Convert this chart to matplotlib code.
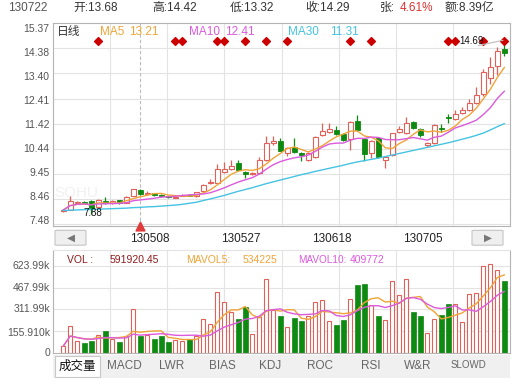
import matplotlib
matplotlib.use('Agg')
import matplotlib.pyplot as plt
import matplotlib.patches as patches
import numpy as np
import pandas as pd

plt.rcParams['font.family'] = ['Liberation Sans', 'Noto Sans CJK SC']

# daily candles (price)
opens = [8.01, 8.06, 8.32, 8.36, 8.40, 8.16, 8.40, 8.33, 8.43, 8.34,
         8.60, 8.83, 8.69, 8.70, 8.63, 8.58, 8.52, 8.60, 8.65, 8.58,
         8.78, 9.09, 9.12, 9.52, 9.64, 9.90, 9.55, 9.46, 9.48, 10.00,
         10.66, 10.76, 10.29, 10.50, 10.27, 10.02, 10.14, 10.98, 11.11, 11.18,
         11.02, 10.82, 11.54, 10.82, 10.29, 10.85, 10.00, 10.20, 11.11, 11.05,
         11.50, 11.21, 10.59, 10.66, 11.25, 11.70, 11.62, 11.83, 11.96, 12.23,
         12.58, 13.20, 13.68, 14.35]
closes = [8.05, 8.39, 8.37, 8.33, 8.12, 8.43, 8.34, 8.38, 8.34, 8.56,
          8.85, 8.68, 8.71, 8.65, 8.59, 8.54, 8.56, 8.65, 8.60, 8.74,
          9.03, 9.15, 9.64, 9.65, 9.77, 9.62, 9.45, 9.49, 10.00, 10.68,
          10.76, 10.37, 10.46, 10.30, 10.20, 10.27, 10.92, 11.14, 11.21, 11.02,
          10.80, 11.50, 11.18, 10.24, 10.75, 10.13, 10.11, 11.05, 11.21, 11.44,
          11.25, 10.98, 10.66, 11.37, 11.20, 11.64, 11.80, 11.96, 12.22, 12.55,
          13.45, 13.66, 14.29, 14.19]
highs = [8.08, 8.60, 8.40, 8.40, 8.45, 8.46, 8.56, 8.42, 8.45, 8.58,
         8.88, 8.85, 8.78, 8.72, 8.66, 8.60, 8.58, 8.68, 8.66, 8.76,
         9.06, 9.28, 9.85, 9.93, 10.00, 10.00, 9.57, 9.52, 10.13, 10.95,
         10.93, 10.86, 10.50, 10.85, 10.30, 10.30, 10.96, 11.44, 11.45, 11.33,
         11.05, 11.53, 11.77, 10.86, 10.78, 10.88, 10.14, 11.08, 11.34, 11.68,
         11.55, 11.24, 10.70, 11.40, 11.40, 11.80, 11.96, 12.08, 12.40, 12.87,
         13.55, 14.05, 14.42, 14.69]
lows = [7.98, 8.04, 8.30, 8.30, 7.88, 8.12, 8.30, 8.30, 8.30, 8.32,
        8.58, 8.65, 8.62, 8.60, 8.55, 8.50, 8.50, 8.58, 8.58, 8.56,
        8.75, 9.06, 9.10, 9.48, 9.60, 9.60, 9.29, 9.42, 9.46, 9.98,
        10.60, 10.35, 10.16, 10.27, 9.98, 9.98, 10.08, 10.95, 11.08, 11.00,
        10.76, 10.39, 11.15, 9.96, 10.08, 10.10, 9.68, 10.18, 11.08, 11.02,
        11.20, 10.92, 10.52, 10.63, 11.10, 11.45, 11.58, 11.80, 11.93, 12.20,
        12.52, 13.00, 13.32, 14.08]
ma30 = [8.03, 8.04, 8.05, 8.06, 8.07, 8.08, 8.09, 8.10, 8.11, 8.12,
        8.14, 8.15, 8.17, 8.18, 8.20, 8.22, 8.24, 8.27, 8.31, 8.35,
        8.42, 8.48, 8.55, 8.62, 8.70, 8.78, 8.85, 8.92, 9.00, 9.08,
        9.15, 9.22, 9.29, 9.36, 9.43, 9.49, 9.56, 9.62, 9.68, 9.74,
        9.80, 9.87, 9.93, 9.98, 10.03, 10.08, 10.14, 10.20, 10.26, 10.32,
        10.38, 10.44, 10.50, 10.56, 10.62, 10.68, 10.75, 10.82, 10.89, 10.97,
        11.06, 11.18, 11.31, 11.43]
# volume in thousands
volumes = [52, 194, 90, 76, 88, 130, 159, 102, 83, 125,
           315, 125, 130, 102, 125, 83, 95, 88, 100, 125,
           244, 206, 434, 368, 292, 244, 330, 135, 261, 527,
           308, 268, 190, 254, 230, 268, 363, 380, 230, 202,
           237, 387, 486, 491, 344, 268, 237, 515, 415, 529,
           296, 268, 142, 244, 273, 351, 349, 221, 420, 427,
           624, 634, 591.92, 515]

price_ticks = [15.37, 14.38, 13.40, 12.41, 11.42, 10.44, 9.45, 8.46, 7.48]
vol_ticks = [623.99, 467.99, 311.99, 155.91, 0]
vol_tick_labels = ['623.99k', '467.99k', '311.99k', '155.910k', '0']
date_idx = [11, 24, 37, 50]
date_labels = ['130508', '130527', '130618', '130705']
signal_idx = [5, 16, 17, 22, 23, 26, 29, 32, 41, 44, 55, 56, 60, 63]
tabs = ['MACD', 'LWR', 'BIAS', 'KDJ', 'ROC', 'RSI', 'W&R']

RED = '#E0605A'
GREEN = '#0E8A12'
C_MA5 = '#F0A437'
C_MA10 = '#DC5ADC'
C_MA30 = '#45C3E2'
GRID = '#E3E3E3'
BORDER = '#B4B4B4'

W, H = 522, 385
fig = plt.figure(figsize=(W / 100, H / 100), dpi=100)


def rect(x0, y0, x1, y1):
    return [x0 / W, 1 - y1 / H, (x1 - x0) / W, (y1 - y0) / H]


def ftext(x, y, s, **kw):
    kw.setdefault('va', 'center')
    kw.setdefault('fontsize', 8.5)
    return fig.text(x / W, 1 - y / H, s, **kw)


x = np.arange(len(closes))
o = np.array(opens)
c = np.array(closes)
up = c >= o
xlim = ((53 - 63.3) / 7.0, (510 - 63.3) / 7.0)

# ---- header
ftext(8, 8, '130722', color='#555555', fontsize=8.5)
ftext(73, 8, '开:13.68', color='#333333')
ftext(152, 8, '高:14.42', color='#333333')
ftext(230, 8, '低:13.32', color='#333333')
ftext(305, 8, '收:14.29', color='#333333')
ftext(380, 8, '张:', color='#333333')
ftext(400, 8, '4.61%', color='#E03030')
ftext(445, 8, '额:8.39亿', color='#333333')

# ---- price panel
ax = fig.add_axes(rect(53, 23, 510, 226))
ax.set_xlim(*xlim)
ax.set_ylim(15.37 - 203 * 0.03916, 15.37)
for v in price_ticks[1:]:
    ax.axhline(v, color=GRID, lw=0.8, zorder=0)
for k in range(1, 8):
    ax.plot([k / 8, k / 8], [0, 1], transform=ax.transAxes, color=GRID, lw=0.8, zorder=0)
ax.axvline(11, color='#BBBBBB', lw=0.8, ls=(0, (3, 2)), zorder=0)
ax.set_xticks([])
ax.set_yticks([])
for s in ax.spines.values():
    s.set_color(BORDER)
    s.set_linewidth(0.8)

# faint watermark
ax.text(0.004, 0.165, 'SOHU', transform=ax.transAxes, fontsize=11, color='#F1F1F1',
        zorder=0, va='center')

# wicks
ax.vlines(x, lows, highs, colors=[RED if u else GREEN for u in up], lw=0.9, zorder=2)
# bodies
body_h = np.maximum(np.abs(c - o), 0.02)
ax.bar(x[up], body_h[up], bottom=np.minimum(o, c)[up], width=0.68,
       facecolor='white', edgecolor=RED, lw=0.8, zorder=3)
ax.bar(x[~up], body_h[~up], bottom=np.minimum(o, c)[~up], width=0.72,
       facecolor=GREEN, edgecolor=GREEN, lw=0.6, zorder=3)

ma5 = pd.Series(closes).rolling(5, min_periods=1).mean()
ma10 = pd.Series(closes).rolling(10, min_periods=1).mean()
ax.plot(x, ma5, color=C_MA5, lw=1.0, zorder=4)
ax.plot(x, ma10, color=C_MA10, lw=1.0, zorder=4)
ax.plot(x, ma30, color=C_MA30, lw=1.0, zorder=4)

# signal diamonds along the top
ax.scatter(signal_idx, [0.911] * len(signal_idx), marker='D', s=16, color='#CC0000',
           transform=ax.get_xaxis_transform(), zorder=5, clip_on=False)

# high / low marks
ax.plot([59.3, 62.8], [14.49, 14.69], color='#BBBBBB', lw=0.8, zorder=5)
ax.text(58.3, 14.665, '14.69', fontsize=7, color='#111111', ha='center', va='center', zorder=6)
ax.text(4.2, 7.92, '7.88', fontsize=7, color='#111111', ha='center', va='center', zorder=6)

# legend row
ax.text(0.009, 0.955, '日线', transform=ax.transAxes, fontsize=8.5, color='#333333', va='center')
ax.text(0.103, 0.955, 'MA5', transform=ax.transAxes, fontsize=8.5, color=C_MA5, va='center')
ax.text(0.166, 0.955, '13.21', transform=ax.transAxes, fontsize=8.5, color=C_MA5, va='center')
ax.text(0.298, 0.955, 'MA10', transform=ax.transAxes, fontsize=8.5, color=C_MA10, va='center')
ax.text(0.376, 0.955, '12.41', transform=ax.transAxes, fontsize=8.5, color=C_MA10, va='center')
ax.text(0.514, 0.955, 'MA30', transform=ax.transAxes, fontsize=8.5, color=C_MA30, va='center')
ax.text(0.606, 0.955, '11.31', transform=ax.transAxes, fontsize=8.5, color=C_MA30, va='center')

# y labels (spread inside the panel)
lo, hi = price_ticks[-1], price_ticks[0]
for v in price_ticks:
    f = 0.0246 + (v - lo) / (hi - lo) * (0.9714 - 0.0246)
    ax.text(-0.008, f, '%.2f' % v, transform=ax.transAxes, ha='right', va='center',
            fontsize=7.5, color='#555555')

# marker of current date
ax.scatter([11], [0.0], marker='^', s=40, color='#E03A3A', transform=ax.get_xaxis_transform(),
           zorder=6, clip_on=False)

# ---- date strip
axs = fig.add_axes(rect(53, 226, 510, 250))
axs.set_xlim(*xlim)
axs.set_ylim(0, 1)
axs.axis('off')
for xb, tri in [(55, '◀'), (472, '▶')]:
    axs.add_patch(patches.FancyBboxPatch(((xb - 53) / 457 * (xlim[1] - xlim[0]) + xlim[0], 0.2),
                                         31 / 7.0, 0.62,
                                         boxstyle='round,pad=0,rounding_size=0.3',
                                         facecolor='#EFEFEF', edgecolor='#C4C4C4', lw=0.8,
                                         mutation_aspect=0.1))
    axs.text((xb + 15.5 - 53) / 457 * (xlim[1] - xlim[0]) + xlim[0], 0.51, tri, ha='center',
             va='center', fontsize=7.5, color='#777777', family='DejaVu Sans')
for i, lab in zip(date_idx, date_labels):
    axs.text(i + 1.4, 0.45, lab, ha='center', va='center', fontsize=8.5, color='#222222')

# ---- volume panel
av = fig.add_axes(rect(53, 250, 510, 353.3))
av.set_xlim(*xlim)
av.set_ylim(0, 103.3 / 0.1404)
for v in vol_ticks[:-1]:
    av.axhline(v, color=GRID, lw=0.8, zorder=0)
for k in range(1, 8):
    av.plot([k / 8, k / 8], [0, 1], transform=av.transAxes, color=GRID, lw=0.8, zorder=0)
av.set_xticks([])
av.set_yticks([])
for s in av.spines.values():
    s.set_color(BORDER)
    s.set_linewidth(0.8)
av.spines['top'].set_color(GRID)

vols = np.array(volumes)
av.bar(x[up], vols[up], width=0.6, facecolor='white', edgecolor=RED, lw=0.8, zorder=2)
av.bar(x[~up], vols[~up], width=0.72, facecolor=GREEN, edgecolor=GREEN, lw=0.5, zorder=2)
mavol5 = pd.Series(volumes).rolling(5, min_periods=1).mean()
mavol10 = pd.Series(volumes).rolling(10, min_periods=1).mean()
av.plot(x, mavol5, color=C_MA5, lw=1.0, zorder=3)
av.plot(x, mavol10, color=C_MA10, lw=1.0, zorder=3)

vol_label_px = [265.7, 287.7, 309.3, 332.7, 353.3]
for lab, py in zip(vol_tick_labels, vol_label_px):
    ftext(50, py, lab, ha='right', fontsize=7.5, color='#555555')

ftext(67, 260, 'VOL :', color='#8E1C1C', fontsize=7.5)
ftext(110, 260, '591920.45', color='#8E1C1C', fontsize=7.5)
ftext(186, 260, 'MAVOL5:', color=C_MA5, fontsize=7.5)
ftext(243, 260, '534225', color=C_MA5, fontsize=7.5)
ftext(298, 260, 'MAVOL10:', color=C_MA10, fontsize=7.2)
ftext(350, 260, '409772', color=C_MA10, fontsize=7.5)

# ---- tab strip
fig.patches.append(patches.Rectangle((53 / W, 1 - 378 / H), 457 / W, 23 / H,
                                     transform=fig.transFigure, facecolor='#F0F0F0',
                                     edgecolor='none', zorder=0))
fig.patches.append(patches.Rectangle((55 / W, 1 - 377 / H), 45 / W, 21 / H,
                                     transform=fig.transFigure, facecolor='white',
                                     edgecolor='#C8C8C8', lw=0.8, zorder=1))
ftext(77.5, 366, '成交量', ha='center', fontsize=9, color='#111111',
      family=['Noto Sans CJK SC', 'DejaVu Sans'])
tab_x = [124, 172, 222, 270, 320, 371, 418]
for tx, t in zip(tab_x, tabs):
    ftext(tx, 366, t, ha='center', fontsize=8.5, color='#666666')
ftext(468, 365, 'SLOWD', ha='center', fontsize=7, color='#666666')

fig.savefig('out.png', dpi=100)
